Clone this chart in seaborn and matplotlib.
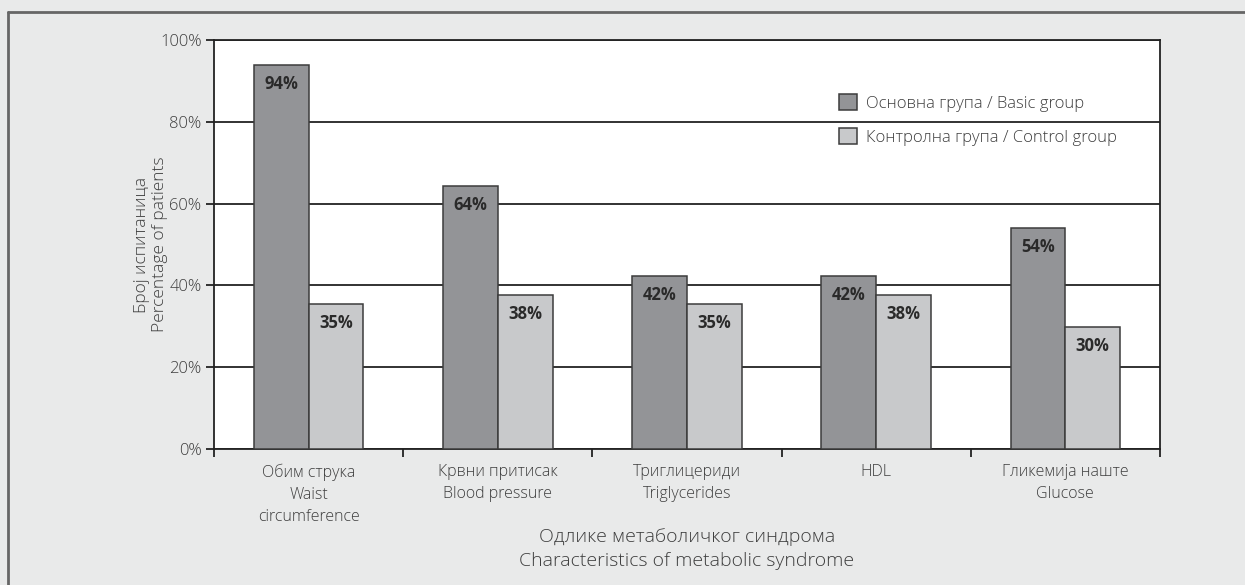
import matplotlib
matplotlib.use("Agg")
import matplotlib.pyplot as plt
import seaborn as sns
import pandas as pd
import numpy as np
from matplotlib.ticker import FixedLocator, PercentFormatter

categories = ["Обим струка\nWaist\ncircumference",
              "Крвни притисак\nBlood pressure",
              "Триглицериди\nTriglycerides",
              "HDL",
              "Гликемија наште\nGlucose"]
groups = ["Основна група / Basic group", "Контролна група / Control group"]
basic_values = [93.9, 64.2, 42.3, 42.3, 54.0]
control_values = [35.4, 37.7, 35.5, 37.7, 29.8]
basic_labels = ["94%", "64%", "42%", "42%", "54%"]
control_labels = ["35%", "38%", "35%", "38%", "30%"]
y_ticks = [0, 20, 40, 60, 80, 100]

sns.set_theme(style="white")
plt.rcParams["font.family"] = ["Open Sans", "DejaVu Sans"]

df = pd.DataFrame({
    "category": categories * 2,
    "group": [groups[0]] * len(categories) + [groups[1]] * len(categories),
    "value": basic_values + control_values,
})

bg = "#e9eaea"
txt = "#3e3e3e"
fig = plt.figure(figsize=(12.45, 5.85), dpi=100, facecolor=bg)
ax = fig.add_axes([0.1719, 0.2325, 0.9317 - 0.1719, 0.9316 - 0.2325])
ax.set_facecolor("white")

palette = {groups[0]: "#939497", groups[1]: "#c8c9cb"}
sns.barplot(data=df, x="category", y="value", hue="group", order=categories,
            hue_order=groups, palette=palette, width=0.58, gap=0,
            edgecolor="#3c3c3c", linewidth=1.1, saturation=1, ax=ax, zorder=3)

for cont, labs in zip(ax.containers, [basic_labels, control_labels]):
    ax.bar_label(cont, labels=labs, padding=-20, fontsize=12,
                 fontweight="bold", color="#2a2a2a", zorder=4)

ax.set_ylim(0, 100)
ax.set_xlim(-0.5, len(categories) - 0.5)
ax.yaxis.set_major_locator(FixedLocator(y_ticks))
ax.yaxis.set_major_formatter(PercentFormatter(decimals=0))
ax.grid(axis="y", color="#222222", linewidth=1.3, zorder=0)
ax.set_axisbelow(True)

# x ticks at category boundaries, labels at centres
ax.set_xticks(np.arange(-0.5, len(categories), 1.0))
ax.set_xticklabels([])
ax.set_xticks(np.arange(len(categories)), minor=True)
ax.set_xticklabels(categories, minor=True, fontsize=11.5, color=txt,
                   fontweight="light", linespacing=1.5)
ax.tick_params(axis="x", which="minor", length=0, pad=10.5)
ax.tick_params(axis="x", which="major", length=6, width=1.3, color="#222222",
               direction="out", bottom=True)
ax.tick_params(axis="y", length=6, width=1.3, color="#222222", direction="out",
               left=True, labelsize=12, labelcolor=txt, pad=3)
for lab in ax.get_yticklabels():
    lab.set_fontweight("light")

for side in ["left", "bottom", "right", "top"]:
    ax.spines[side].set_visible(True)
    ax.spines[side].set_color("#222222")
    ax.spines[side].set_linewidth(1.3)

ax.set_ylabel("Број испитаница\nPercentage of patients", fontsize=12.5,
              color=txt, fontweight="light", linespacing=1.1)
ax.yaxis.set_label_coords(-0.049, 0.5)
ax.set_xlabel("Одлике метаболичког синдрома\nCharacteristics of metabolic syndrome",
              fontsize=14, color=txt, fontweight="light", labelpad=2,
              linespacing=1.45)

leg = ax.legend(loc="upper left", bbox_to_anchor=(0.645, 0.905), frameon=False,
                fontsize=12, handlelength=1.1, handleheight=1.1,
                handletextpad=0.5, labelspacing=1.0)
for t in leg.get_texts():
    t.set_color(txt)
    t.set_fontweight("light")

# outer frame (top and left edges visible)
fig.add_artist(plt.Line2D([8 / 1245, 1.0], [1 - 12 / 585, 1 - 12 / 585],
                          transform=fig.transFigure, color="#666666", linewidth=2))
fig.add_artist(plt.Line2D([8 / 1245, 8 / 1245], [0.0, 1 - 12 / 585],
                          transform=fig.transFigure, color="#666666", linewidth=2))

fig.savefig("out.png", dpi=100, facecolor=bg)
